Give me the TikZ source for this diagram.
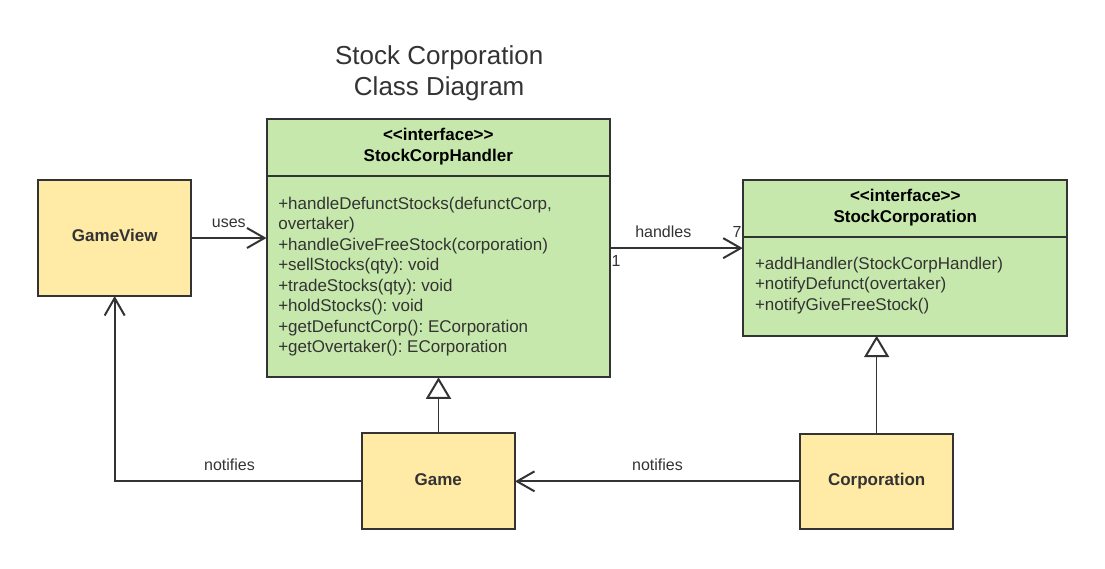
\documentclass[tikz,border=0pt]{standalone}
\usepackage{fontspec}
\setmainfont{Liberation Sans}[Ligatures=TeXOff]
\usetikzlibrary{arrows.meta}
\frenchspacing
\definecolor{ink}{HTML}{333333}
\definecolor{ifgreen}{HTML}{C7E8AC}
\definecolor{clyellow}{HTML}{FFEAA6}
\tikzset{
  box/.style={draw=ink, line width=2pt, rectangle, inner sep=0pt, outer sep=0pt},
  txt/.style={inner sep=0pt, outer sep=0pt, text=ink, font=\fontsize{17}{20.5}\selectfont},
  hdr/.style={inner sep=0pt, outer sep=0pt, text=black, font=\fontsize{17}{20.5}\selectfont\bfseries, anchor=base},
  cname/.style={inner sep=0pt, outer sep=0pt, text=ink, font=\fontsize{17}{20.5}\selectfont\bfseries, anchor=base},
  lbl/.style={inner sep=0pt, outer sep=0pt, text=ink, font=\fontsize{16}{19}\selectfont, anchor=base},
  ttl/.style={inner sep=0pt, outer sep=0pt, text=ink, font=\fontsize{26}{31}\selectfont, anchor=base},
  assoc/.style={draw=ink, line width=2pt, -{Straight Barb[length=17.5pt, width=20pt, line width=2pt]}},
  gener/.style={draw=ink, line width=1.2pt, -{Triangle[open, length=21.5pt, width=25pt, line width=2pt, fill=white]}},
}
\begin{document}
\frenchspacing
\begin{tikzpicture}[x=1pt, y=-1pt]
\useasboundingbox (0,0) rectangle (1105,568);
\fill[white] (0,0) rectangle (1105,568);

% title
\node[ttl] (t1) at (439.2,64.3) {Stock Corporation};
\node[ttl] (t2) at (439.2,95.7) {Class Diagram};

% StockCorpHandler
\node[box, fill=ifgreen, minimum width=343.5pt, minimum height=258.3pt] (sch) at (438.25,248.15) {};
\coordinate (schd) at (438.25,175.7);
\draw[ink, line width=2pt] (sch.west |- schd) -- (sch.east |- schd);
\node[hdr] (schh1) at (438.3,140.7) {<<interface>>};
\node[hdr] (schh2) at (438.3,161.7) {StockCorpHandler};
\foreach \t [count=\i from 0] in {{+handleDefunctStocks(defunctCorp,}, {overtaker)}, {+handleGiveFreeStock(corporation)}, {+sellStocks(qty): void}, {+tradeStocks(qty): void}, {+holdStocks(): void}, {+getDefunctCorp(): ECorporation}, {+getOvertaker(): ECorporation}}
  \node[txt, anchor=base west] (schm\i) at (278.3,209.3+20.5*\i) {\t};

% StockCorporation
\node[box, fill=ifgreen, minimum width=324.3pt, minimum height=155.7pt] (sc) at (904.85,257.85) {};
\coordinate (scd) at (904.85,237);
\draw[ink, line width=2pt] (sc.west |- scd) -- (sc.east |- scd);
\node[hdr] (sch1) at (905.3,201) {<<interface>>};
\node[hdr] (sch2) at (905.3,222.7) {StockCorporation};
\foreach \t [count=\i from 0] in {{+addHandler(StockCorpHandler)}, {+notifyDefunct(overtaker)}, {+notifyGiveFreeStock()}}
  \node[txt, anchor=base west] (scm\i) at (755,269.3+20.5*\i) {\t};

% plain classes
\node[box, fill=clyellow, minimum width=152.7pt, minimum height=116pt] (gv) at (114.65,238) {};
\node[cname] (gvt) at (114.8,241.7) {GameView};
\node[box, fill=clyellow, minimum width=153pt, minimum height=95.7pt] (game) at (438.5,481.2) {};
\node[cname] (gamet) at (438.3,485) {Game};
\node[box, fill=clyellow, minimum width=153.3pt, minimum height=95.3pt] (corp) at (876.65,481.35) {};
\node[cname] (corpt) at (876.7,485) {Corporation};

% connectors
\draw[assoc] (gv.east) -- (gv.east -| sch.west);
\node[lbl] (uses) at (228.8,227.3) {uses};

\draw[assoc] (sch.east) -- (sch.east -| sc.west);
\node[lbl] (handles) at (663.3,237.7) {handles};
\node[lbl, anchor=base west] (mult1) at (611.5,266) {1};
\node[lbl, anchor=base west] (mult7) at (732.5,237.7) {7};

\draw[gener] (game.north) -- (game.north |- sch.south);
\draw[gener] (corp.north) -- (corp.north |- sc.south);

\draw[assoc] (corp.west) -- (corp.west -| game.east);
\node[lbl] (notif1) at (657.5,470.7) {notifies};

\draw[assoc] (game.west) -| (gv.south);
\node[lbl] (notif2) at (229.5,470.7) {notifies};
\end{tikzpicture}
\end{document}
